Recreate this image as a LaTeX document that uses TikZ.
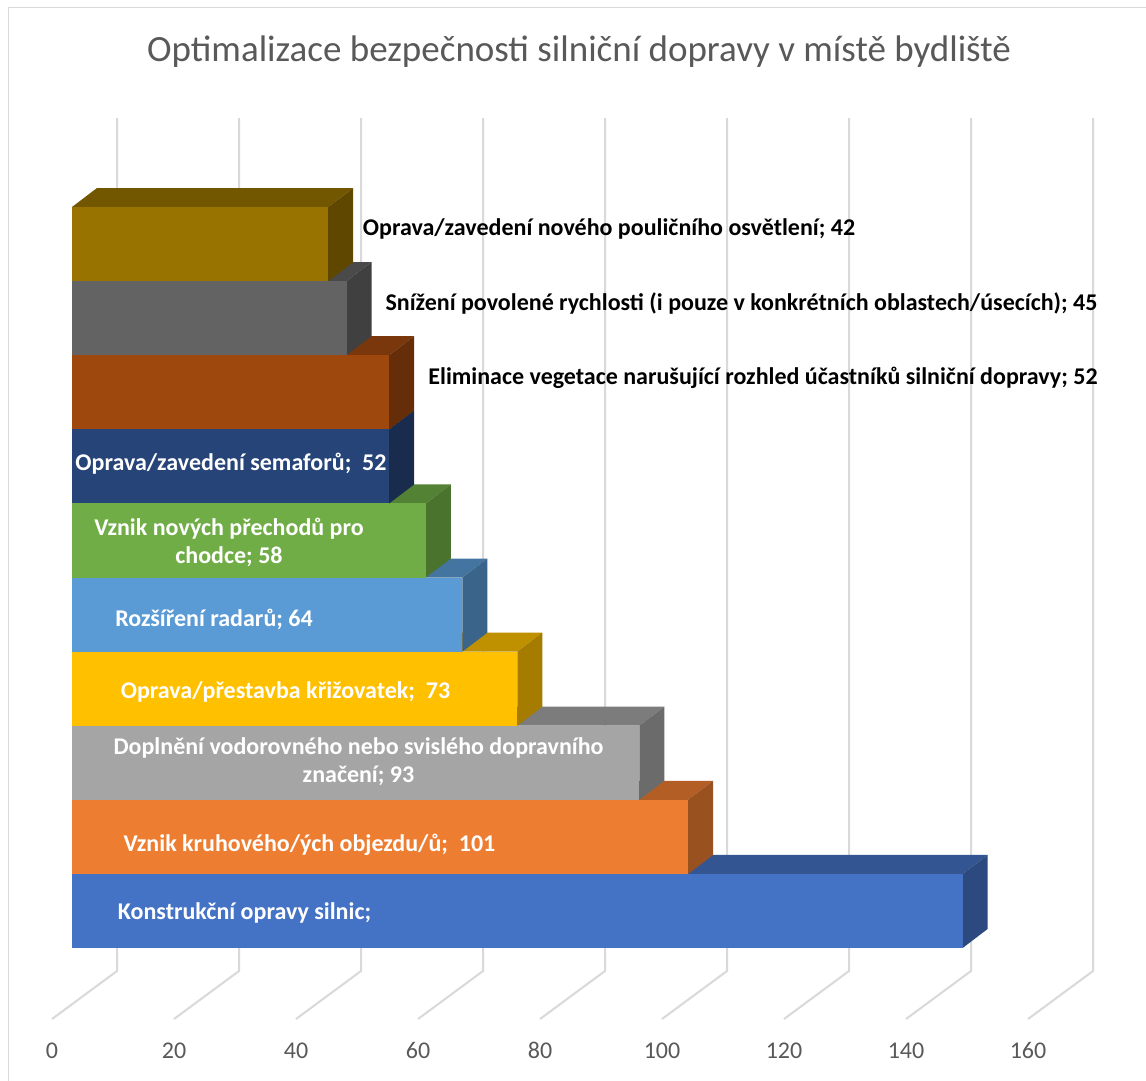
\documentclass[tikz,border=0pt]{standalone}
\usepackage{fontspec}
\setmainfont{Carlito}
\begin{document}
\begin{tikzpicture}[x=1pt,y=-1pt,
  blab/.style={font=\fontsize{24}{28}\selectfont\bfseries, text=white, inner sep=0pt, align=center},
  klab/.style={font=\fontsize{24}{28}\selectfont\bfseries, text=black, inner sep=0pt},
  axlab/.style={font=\fontsize{24}{28}\selectfont, text=txtgray, inner sep=0pt, anchor=base},
  gridln/.style={draw=gridc, line width=2pt}]
\definecolor{gridc}{HTML}{D9D9D9}
\definecolor{txtgray}{HTML}{595959}
\definecolor{goldF}{HTML}{997300}\definecolor{goldT}{HTML}{735700}\definecolor{goldS}{HTML}{5F4700}
\definecolor{grayF}{HTML}{636363}\definecolor{grayT}{HTML}{4A4A4A}\definecolor{grayS}{HTML}{404040}
\definecolor{brownF}{HTML}{9E480E}\definecolor{brownT}{HTML}{7A370B}\definecolor{brownS}{HTML}{652D08}
\definecolor{navyF}{HTML}{264478}\definecolor{navyT}{HTML}{1C3359}\definecolor{navyS}{HTML}{1A2C4E}
\definecolor{greenF}{HTML}{70AD47}\definecolor{greenT}{HTML}{548235}\definecolor{greenS}{HTML}{4A732E}
\definecolor{lblueF}{HTML}{5B9BD5}\definecolor{lblueT}{HTML}{4475A0}\definecolor{lblueS}{HTML}{3A648A}
\definecolor{yellowF}{HTML}{FFC000}\definecolor{yellowT}{HTML}{BF9000}\definecolor{yellowS}{HTML}{A67C00}
\definecolor{silverF}{HTML}{A5A5A5}\definecolor{silverT}{HTML}{7C7C7C}\definecolor{silverS}{HTML}{6B6B6B}
\definecolor{orangeF}{HTML}{ED7D31}\definecolor{orangeT}{HTML}{B25E25}\definecolor{orangeS}{HTML}{9A5120}
\definecolor{blueF}{HTML}{4472C4}\definecolor{blueT}{HTML}{335693}\definecolor{blueS}{HTML}{2C4A7F}
\useasboundingbox (0,0) rectangle (1146,1081);
\fill[white] (0,0) rectangle (1146,1081);
\draw[gridc, line width=1pt] (8,8) rectangle (1160,1095);
% title
\node[font=\fontsize{37}{42}\selectfont, text=txtgray, inner sep=0pt] (title) at (579,52) {Optimalizace bezpečnosti silniční dopravy v místě bydliště};
% grid
\foreach \k in {0,...,8}
  \draw[gridln] ({117+122*\k},118) -- ({117+122*\k},971) -- ({52+122*\k},1019);
\foreach \k/\lab in {0/0,1/20,2/40,3/60,4/80,5/100,6/120,7/140,8/160}
  \node[axlab] (ax\k) at ({52+122*\k},1058) {\lab};
% bars, bottom first
\foreach \v/\i/\col in {146/9/blue,101/8/orange,93/7/silver,73/6/yellow,64/5/lblue,58/4/green,52/3/navy,52/2/brown,45/1/gray,42/0/gold}{
  \pgfmathsetmacro\xr{72+6.1*\v}
  \pgfmathsetmacro\ty{207+74.1*\i}
  \pgfmathsetmacro\by{\ty+74.1}
  \fill[\col T] (72,\ty) -- (97,\ty-19) -- (\xr+25,\ty-19) -- (\xr,\ty) -- cycle;
  \fill[\col S] (\xr,\ty) -- (\xr+25,\ty-19) -- (\xr+25,\by-19) -- (\xr,\by) -- cycle;
  \fill[\col F] (72,\ty) rectangle (\xr,\by);
}
% labels
\node[klab] (l1) at (609,229) {Oprava/zavedení nového pouličního osvětlení; 42};
\node[klab] (l2) at (741.5,303) {Snížení povolené rychlosti (i pouze v konkrétních oblastech/úsecích); 45};
\node[klab] (l3) at (763,378) {Eliminace vegetace narušující rozhled účastníků silniční dopravy; 52};
\node[blab] (l4) at (231,464) {Oprava/zavedení semaforů;~ 52};
\node[blab] (l5) at (229,542) {Vznik nových přechodů pro\\chodce; 58};
\node[blab] (l6) at (214,619) {Rozšíření radarů; 64};
\node[blab] (l7) at (285.5,692) {Oprava/přestavba křižovatek;~ 73};
\node[blab] (l8) at (358.5,762) {Doplnění vodorovného nebo svislého dopravního\\značení; 93};
\node[blab] (l9) at (309.5,845) {Vznik kruhového/ých objezdu/ů;~ 101};
\node[blab] (l10) at (244.5,913) {Konstrukční opravy silnic;};
\end{tikzpicture}
\end{document}
